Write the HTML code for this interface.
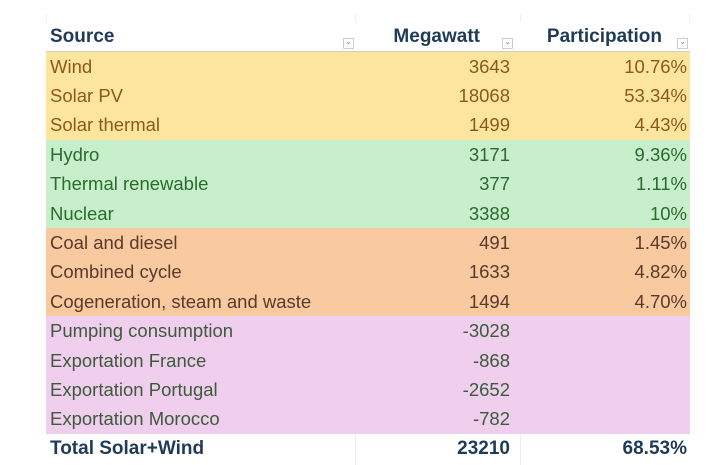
<!DOCTYPE html>
<html><head><style>
body{margin:0;background:#fff;width:720px;height:465px;overflow:hidden;font-family:"Liberation Sans",sans-serif;}
.t{position:absolute;left:46px;top:0;width:644px;}
.r{position:absolute;left:0;width:644px;height:30px;font-size:18.5px;line-height:29.4px;}
.r span{position:absolute;white-space:nowrap;}
.a{left:4px}.b{right:180px}.c{right:3px}
.o{background:#fde5a0;color:#8c5a14}
.g{background:#c7efcc;color:#2d6a2d}
.s{background:#f9c9a0;color:#5a3a2c}
.p{background:#efcfed;color:#3d5a3a}
.h{font-weight:bold;color:#1f3b58;background:#fff;font-size:19px}
.f{position:absolute;width:9px;height:9px;border:1px solid #ccc;top:38px;font-size:7px;line-height:8px;text-align:center;color:#666}
.vl{position:absolute;top:14px;height:38px;width:1px;background:#eee}
</style></head><body>
<div class="t">
<div class="vl" style="left:0"></div><div class="vl" style="left:309px"></div><div class="vl" style="left:474px"></div><div class="vl" style="left:643px"></div>
<div class="r h" style="top:22px;height:29px;border-bottom:2px solid #c9d3c0"><span class="a">Source</span><span style="right:210px">Megawatt</span><span style="right:28px">Participation</span></div>
<div class="f" style="left:297px">⌄</div><div class="f" style="left:456px">⌄</div><div class="f" style="left:631px">⌄</div>
<div class="r o" style="top:51.5px"><span class="a">Wind</span><span class="b">3643</span><span class="c">10.76%</span></div>
<div class="r o" style="top:80.9px"><span class="a">Solar PV</span><span class="b">18068</span><span class="c">53.34%</span></div>
<div class="r o" style="top:110.3px"><span class="a">Solar thermal</span><span class="b">1499</span><span class="c">4.43%</span></div>
<div class="r g" style="top:139.7px"><span class="a">Hydro</span><span class="b">3171</span><span class="c">9.36%</span></div>
<div class="r g" style="top:169.1px"><span class="a">Thermal renewable</span><span class="b">377</span><span class="c">1.11%</span></div>
<div class="r g" style="top:198.5px"><span class="a">Nuclear</span><span class="b">3388</span><span class="c">10%</span></div>
<div class="r s" style="top:227.9px"><span class="a">Coal and diesel</span><span class="b">491</span><span class="c">1.45%</span></div>
<div class="r s" style="top:257.3px"><span class="a">Combined cycle</span><span class="b">1633</span><span class="c">4.82%</span></div>
<div class="r s" style="top:286.7px"><span class="a">Cogeneration, steam and waste</span><span class="b">1494</span><span class="c">4.70%</span></div>
<div class="r p" style="top:316.1px"><span class="a">Pumping consumption</span><span class="b">-3028</span></div>
<div class="r p" style="top:345.5px"><span class="a">Exportation France</span><span class="b">-868</span></div>
<div class="r p" style="top:374.9px"><span class="a">Exportation Portugal</span><span class="b">-2652</span></div>
<div class="r p" style="top:404.3px"><span class="a">Exportation Morocco</span><span class="b">-782</span></div>
<div class="r h" style="top:434px;height:31px"><span class="a">Total Solar+Wind</span><span class="b">23210</span><span class="c">68.53%</span></div>
<div style="position:absolute;left:309px;top:434px;width:1px;height:31px;background:#eee"></div>
<div style="position:absolute;left:474px;top:434px;width:1px;height:31px;background:#eee"></div>
</div>
</body></html>
